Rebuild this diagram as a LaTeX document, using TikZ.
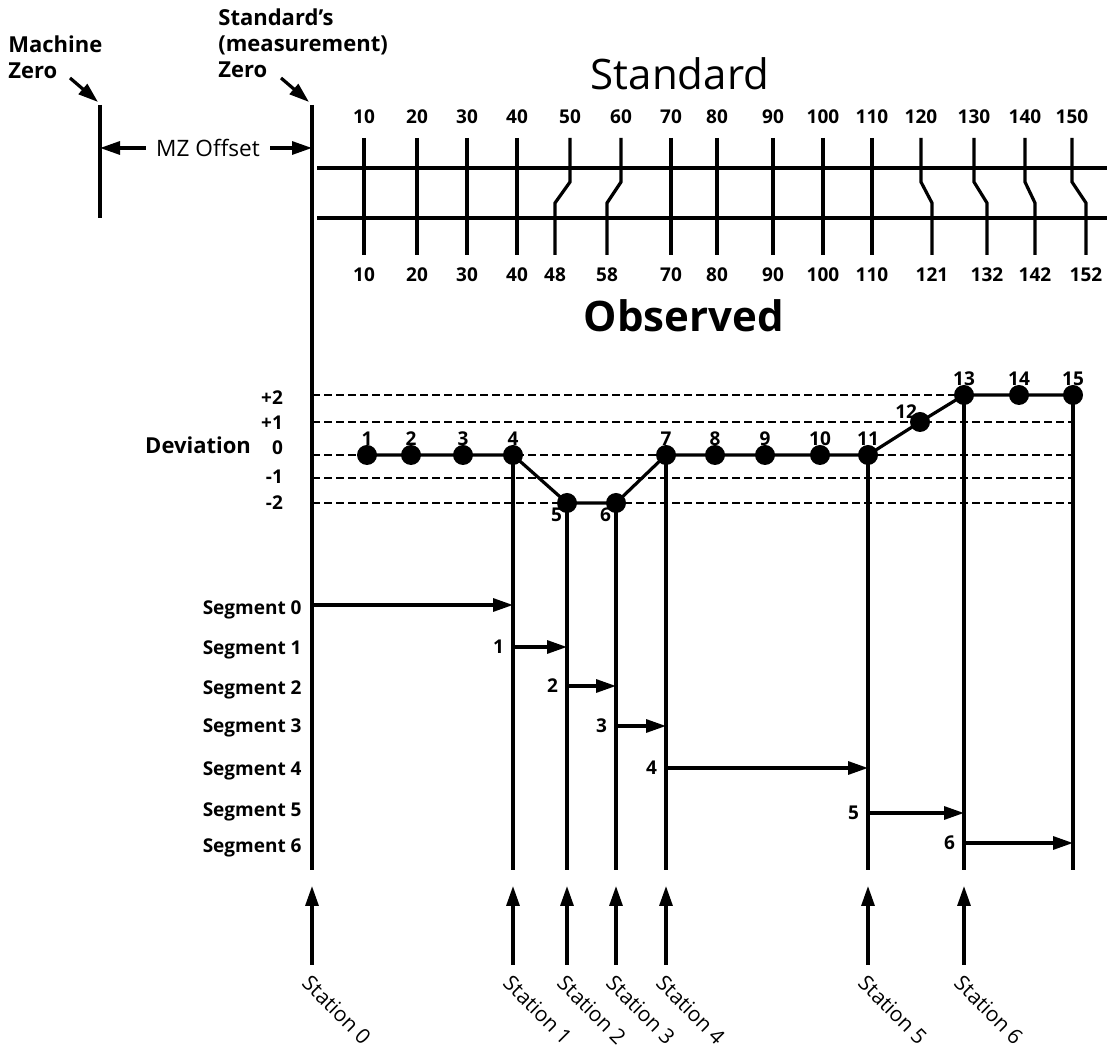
\documentclass[tikz,border=0pt]{standalone}
\usepackage{fontspec}
\setmainfont{Open Sans}
\usetikzlibrary{arrows.meta}

\tikzset{
  trait/.style={line width=1.6pt},
  fleche/.style={line width=1.6pt,-{Triangle[length=10pt,width=6.5pt]}},
  tiret/.style={line width=1.3pt,dash pattern=on 4pt off 2pt},
  point/.style={circle,fill,inner sep=0pt,minimum size=10pt},
  lbl/.style={font=\bfseries\fontsize{11}{13}\selectfont},
  num/.style={font=\bfseries\fontsize{9.5}{11}\selectfont},
  seg/.style={font=\bfseries\fontsize{9.5}{11}\selectfont,anchor=east,inner sep=0pt},
}

\begin{document}
\begin{tikzpicture}[x=0.5pt,y=-0.5pt]
    \useasboundingbox (0,0) rectangle (1109,1052);

    % Zéros
    \coordinate (MZh) at (100,105);
    \coordinate (MZb) at (100,218);
    \coordinate (S0h) at (312,105);
    \coordinate (S0b) at (312,870);
    \draw[trait] (MZh) -- (MZb);
    \draw[trait] (S0h) -- (S0b);

    \node[lbl,align=left,anchor=north west,inner sep=0pt] (mz) at (8,35) {Machine\\Zero};
    \node[lbl,align=left,anchor=north west,inner sep=0pt] (sz) at (218,8) {Standard’s\\(measurement)\\Zero};
    \draw[fleche] (70,78) -- (98,102);
    \draw[fleche] (281,78) -- (309,102);

    \node[font=\fontsize{11.3}{13}\selectfont,inner sep=5pt] (off) at (208,148) {MZ Offset};
    \draw[fleche] (off.west) -- (off.west -| MZh);
    \draw[fleche] (off.east) -- (off.east -| S0h);

    % Echelles
    \node[font=\fontsize{21}{24}\selectfont] (std) at (680,74) {Standard};
    \node[font=\bfseries\fontsize{21}{24}\selectfont] (obs) at (684,316) {Observed};
    \draw[trait] (317,168) -- (1107,168);
    \draw[trait] (317,218) -- (1107,218);
    \foreach \s/\o/\xs/\xo in {10/10/364/364, 20/20/417/417, 30/30/467/467,
        40/40/517/517, 50/48/570/555, 60/58/621/607, 70/70/671/671,
        80/80/717/717, 90/90/773/773, 100/100/823/823, 110/110/872/872,
        120/121/921/932, 130/132/974/987, 140/142/1025/1035, 150/152/1072/1086} {
      \draw[trait] (\xs,138) -- (\xs,182) -- (\xo,203) -- (\xo,255);
      \node[num] at (\xs,117) {\s};
      \node[num] at (\xo,275) {\o};
    }

    % Deviation
    \node[lbl,anchor=east] (dev) at (258,445) {Deviation};
    \foreach \d/\y/\ly in {+2/395/398, +1/422/423, 0/455/448, -1/478/477, -2/503/503} {
      \draw[tiret] (312,\y) -- (1075,\y);
      \node[num,anchor=east] at (290,\ly) {\d};
    }

    % Points
    \foreach \i/\x/\y in {1/367/455, 2/411/455, 3/463/455, 4/513/455, 5/567/503,
        6/616/503, 7/666/455, 8/715/455, 9/765/455, 10/820/455, 11/868/455,
        12/920/422, 13/964/395, 14/1019/395, 15/1073/395} {
      \node[point] (p\i) at (\x,\y) {};
    }
    \draw[trait] (p1.center) -- (p2.center) -- (p3.center) -- (p4.center)
      -- (p5.center) -- (p6.center) -- (p7.center) -- (p8.center) -- (p9.center)
      -- (p10.center) -- (p11.center) -- (p12.center) -- (p13.center)
      -- (p14.center) -- (p15.center);

    % Labels des points
    \foreach \i in {1,2,3,4,7,8,9,10,11,13,14,15}
      \node[num,above=1pt] at (p\i) {\i};
    \node[num,below left=-1pt] at (p5) {5};
    \node[num,below left=-1pt] at (p6) {6};
    \node[num,above left=-2pt] at (p12) {12};

    % Stations
    \foreach \i in {4,5,6,7,11,13,15}
      \draw[trait] (p\i.center) -- (p\i |- S0b);

    % Segments
    \foreach \k/\y in {0/605, 1/647, 2/686, 3/726, 4/768, 5/813, 6/843}
      \coordinate (s\k) at (0,\y);
    \node[seg] at (302,610) {Segment 0};
    \node[seg] at (302,650) {Segment 1};
    \node[seg] at (302,690) {Segment 2};
    \node[seg] at (302,728) {Segment 3};
    \node[seg] at (302,771) {Segment 4};
    \node[seg] at (302,812) {Segment 5};
    \node[seg] at (302,848) {Segment 6};
    \draw[fleche] (S0b |- s0) -- (p4 |- s0);
    \foreach \k/\a/\b in {1/p4/p5, 2/p5/p6, 3/p6/p7, 4/p7/p11, 5/p11/p13, 6/p13/p15} {
      \draw[fleche] (\a |- s\k) -- (\b |- s\k);
      \node[num,left=1pt] at (\a |- s\k) {\k};
    }

    % Fleches des stations
    \coordinate (bas) at (0,965);
    \coordinate (haut) at (0,886);
    \foreach \n/\a in {0/S0b, 1/p4, 2/p5, 3/p6, 4/p7, 5/p11, 6/p13} {
      \draw[fleche] (\a |- bas) -- (\a |- haut);
      \node[font=\fontsize{10.5}{12}\selectfont,rotate=-45,anchor=west,inner sep=0pt]
        at ([xshift=-3pt,yshift=-7pt]\a |- bas) {Station \n};
    }

\end{tikzpicture}
\end{document}
